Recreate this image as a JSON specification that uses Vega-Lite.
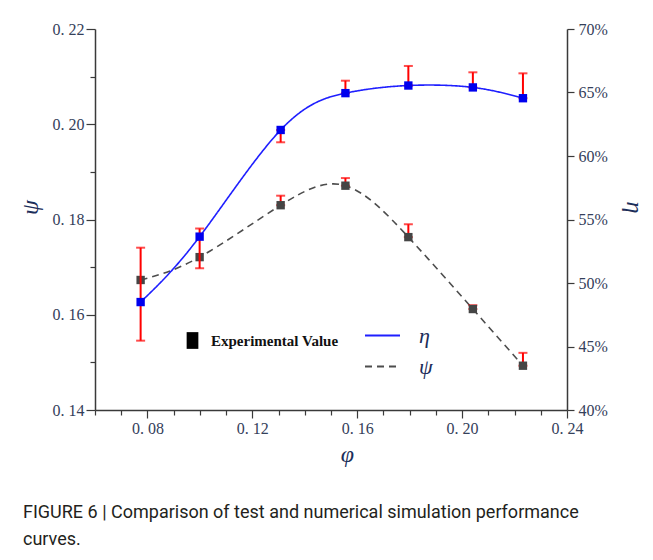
{
  "$schema": "https://vega.github.io/schema/vega-lite/v6.json",
  "width": 472,
  "height": 381,
  "autosize": {"type": "none"},
  "padding": {"left": 95, "top": 29, "right": 86, "bottom": 150},
  "background": "white",
  "config": {
    "view": {"stroke": null},
    "axis": {
      "grid": false,
      "labelOverlap": false,
      "domainColor": "#3a3a3a",
      "domainWidth": 1.5,
      "tickColor": "#3a3a3a",
      "tickWidth": 1.2,
      "labelFont": "Liberation Serif",
      "labelFontSize": 16,
      "labelColor": "#34405a",
      "titleFont": "Liberation Serif",
      "titleFontStyle": "italic",
      "titleFontWeight": "normal",
      "titleFontSize": 24,
      "titleColor": "#1c2e5a"
    }
  },
  "title": {
    "text": ["FIGURE 6 | Comparison of test and numerical simulation performance", "curves."],
    "orient": "bottom",
    "anchor": "start",
    "frame": "bounds",
    "offset": 38,
    "dx": 5,
    "font": "Roboto",
    "fontSize": 18,
    "fontWeight": "normal",
    "color": "#231f20",
    "lineHeight": 27
  },
  "datasets": {
    "pts": [
      {"phi": 0.0774, "psi": 0.1673, "eta": 48.5},
      {"phi": 0.0999, "psi": 0.1721, "eta": 53.65},
      {"phi": 0.1308, "psi": 0.183, "eta": 62.05},
      {"phi": 0.1555, "psi": 0.1871, "eta": 64.95},
      {"phi": 0.1795, "psi": 0.1763, "eta": 65.55},
      {"phi": 0.2041, "psi": 0.1612, "eta": 65.4},
      {"phi": 0.2232, "psi": 0.1493, "eta": 64.55}
    ],
    "etaErr": [
      {"phi": 0.0774, "elo": 45.46, "ehi": 52.78},
      {"phi": 0.0999, "elo": 51.16, "ehi": 54.29},
      {"phi": 0.1308, "elo": 61.08, "ehi": 62.05},
      {"phi": 0.1555, "elo": 64.95, "ehi": 65.93},
      {"phi": 0.1795, "elo": 65.55, "ehi": 67.09},
      {"phi": 0.2041, "elo": 65.4, "ehi": 66.59},
      {"phi": 0.2232, "elo": 64.55, "ehi": 66.51}
    ],
    "psiErr": [
      {"phi": 0.1308, "lo": 0.183, "hi": 0.185},
      {"phi": 0.1555, "lo": 0.1871, "hi": 0.1887},
      {"phi": 0.1795, "lo": 0.1763, "hi": 0.179},
      {"phi": 0.2041, "lo": 0.1612, "hi": 0.162},
      {"phi": 0.2232, "lo": 0.1493, "hi": 0.152}
    ],
    "none": []
  },
  "encoding": {
    "x": {
      "field": "phi",
      "type": "quantitative",
      "title": "φ",
      "scale": {"domain": [0.06, 0.24], "nice": false, "zero": false},
      "axis": {
        "orient": "bottom",
        "values": [0.06, 0.07, 0.08, 0.09, 0.1, 0.11, 0.12, 0.13, 0.14, 0.15, 0.16, 0.17, 0.18, 0.19, 0.2, 0.21, 0.22, 0.23, 0.24],
        "labelExpr": "round(datum.value*100) % 4 == 0 ? replace(format(datum.value, '.2f'), '.', '. ') : ''",
        "tickSize": {"condition": {"test": "round(datum.value*100) % 4 == 0", "value": 8}, "value": 5},
        "labelPadding": 2,
        "labelOverlap": false,
        "labelFlush": false,
        "labelBound": false,
        "titlePadding": 6,
        "titleX": 252
      }
    }
  },
  "layer": [
    {
      "layer": [
        {
          "data": {"name": "pts"},
          "mark": {"type": "line", "interpolate": "natural", "strokeWidth": 1.6},
          "encoding": {
            "y": {"field": "psi", "type": "quantitative", "title": "ψ", "scale": {"domain": [0.14, 0.22], "nice": false, "zero": false},
              "axis": {
                "orient": "left",
                "values": [0.14, 0.145, 0.15, 0.155, 0.16, 0.165, 0.17, 0.175, 0.18, 0.185, 0.19, 0.195, 0.2, 0.205, 0.21, 0.215, 0.22],
                "labelExpr": "round(datum.value*1000) % 20 == 0 ? replace(format(datum.value, '.2f'), '.', '. ') : ''",
                "tickSize": {"condition": {"test": "round(datum.value*1000) % 20 == 0", "value": 9}, "value": 5},
                "labelPadding": 2,
                "labelOverlap": false,
                "labelFlush": false,
                "labelBound": false,
                "titlePadding": 10,
                "titleY": 178
              }},
            "color": {"datum": "ψ", "scale": {"domain": ["η", "ψ"], "range": ["#1f1fff", "#4d4d4d"]},
              "legend": {"title": null, "orient": "none", "legendX": 269, "legendY": 291, "padding": 0, "symbolType": "stroke", "symbolSize": 1225, "symbolStrokeWidth": 2, "clipHeight": 31, "rowPadding": 0, "labelOffset": 18, "labelFont": "Liberation Serif", "labelFontStyle": "italic", "labelFontSize": 22, "labelColor": "#1c2e5a"}},
            "strokeDash": {"datum": "ψ", "scale": {"domain": ["η", "ψ"], "range": [[1, 0], [7, 5]]},
              "legend": {"title": null, "orient": "none", "legendX": 269, "legendY": 291, "padding": 0, "symbolType": "stroke", "symbolSize": 1225, "symbolStrokeWidth": 2, "clipHeight": 31, "rowPadding": 0, "labelOffset": 18, "labelFont": "Liberation Serif", "labelFontStyle": "italic", "labelFontSize": 22, "labelColor": "#1c2e5a"}}
          }
        },
        {
          "data": {"name": "psiErr"},
          "mark": {"type": "errorbar", "color": "#ff0000", "thickness": 2, "ticks": {"size": 9, "thickness": 2, "color": "#ff0000"}},
          "encoding": {
            "y": {"field": "lo", "type": "quantitative", "title": "ψ", "scale": {"domain": [0.14, 0.22], "nice": false, "zero": false}},
            "y2": {"field": "hi"}
          }
        },
        {
          "data": {"name": "pts"},
          "mark": {"type": "point", "shape": "square", "filled": true, "size": 70, "color": "#454545", "opacity": 1},
          "encoding": {
            "y": {"field": "psi", "type": "quantitative", "title": "ψ", "scale": {"domain": [0.14, 0.22], "nice": false, "zero": false}}
          }
        },
        {
          "data": {"name": "none"},
          "mark": {"type": "point", "filled": true, "color": "#000000", "opacity": 1},
          "encoding": {
            "y": {"field": "psi", "type": "quantitative", "title": "ψ", "scale": {"domain": [0.14, 0.22], "nice": false, "zero": false}},
            "shape": {"datum": "Experimental Value", "scale": {"domain": ["Experimental Value"], "range": ["M-0.7,-1H0.7V1H-0.7Z"]},
              "legend": {"title": null, "orient": "none", "legendX": 88, "legendY": 302, "padding": 0, "symbolSize": 280, "symbolFillColor": "#000000", "symbolStrokeColor": "#000000", "labelOffset": 9, "labelFont": "Liberation Serif", "labelFontWeight": "bold", "labelFontSize": 15, "labelColor": "#111111"}}
          }
        }
      ]
    },
    {
      "layer": [
        {
          "data": {"name": "pts"},
          "mark": {"type": "line", "interpolate": "natural", "strokeWidth": 1.6},
          "encoding": {
            "y": {"field": "eta", "type": "quantitative", "title": "η", "scale": {"domain": [40, 70], "nice": false, "zero": false},
              "axis": {
                "orient": "right",
                "values": [40, 45, 50, 55, 60, 65, 70],
                "labelExpr": "round(datum.value) % 5 == 0 ? datum.value + '%' : ''",
                "tickSize": 7,
                "labelPadding": 4,
                "labelOverlap": false,
                "labelFlush": false,
                "labelBound": false,
                "titlePadding": 14,
                "titleY": 178
              }},
            "color": {"datum": "η"},
            "strokeDash": {"datum": "η"}
          }
        },
        {
          "data": {"name": "etaErr"},
          "mark": {"type": "errorbar", "color": "#ff0000", "thickness": 2, "ticks": {"size": 9, "thickness": 2, "color": "#ff0000"}},
          "encoding": {
            "y": {"field": "elo", "type": "quantitative", "title": "η", "scale": {"domain": [40, 70], "nice": false, "zero": false}},
            "y2": {"field": "ehi"}
          }
        },
        {
          "data": {"name": "pts"},
          "mark": {"type": "point", "shape": "square", "filled": true, "size": 70, "color": "#0000ee", "opacity": 1},
          "encoding": {
            "y": {"field": "eta", "type": "quantitative", "title": "η", "scale": {"domain": [40, 70], "nice": false, "zero": false}}
          }
        }
      ]
    }
  ],
  "resolve": {"scale": {"y": "independent"}}
}
